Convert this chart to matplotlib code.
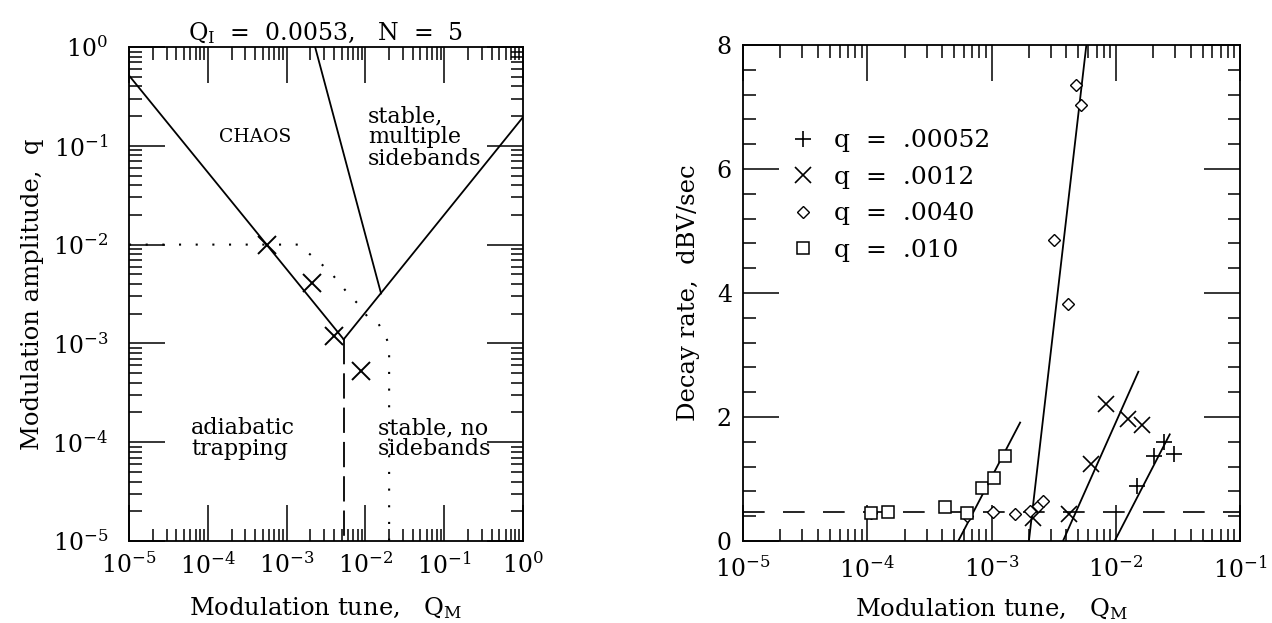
import matplotlib
matplotlib.use('Agg')
import matplotlib.pyplot as plt
from matplotlib.ticker import LogLocator, MultipleLocator, NullFormatter

plt.rcParams['font.family'] = 'DejaVu Serif'
plt.rcParams['mathtext.fontset'] = 'dejavuserif'

# Panel izquierdo: diagrama de estabilidad
lineaA_x = [1e-5, 5.3e-3]
lineaA_y = [0.515, 1.1e-3]
lineaB_x = [5.3e-3, 1.0]
lineaB_y = [1.1e-3, 0.195]
lineaC_x = [2.3e-3, 0.0158]
lineaC_y = [1.0, 3.2e-3]
trazos_x = [5.3e-3, 5.3e-3]
trazos_y = [1.1e-3, 1e-5]
puntos_x = [1e-5, 1.4e-3, 1.9e-3, 3.5e-3, 6.0e-3, 8.1e-3, 0.0107, 0.0145, 0.018, 0.0195, 0.020, 0.020]
puntos_y = [1e-2, 1e-2, 8.2e-3, 5.4e-3, 3.2e-3, 2.5e-3, 1.85e-3, 1.6e-3, 1.2e-3, 1.0e-3, 8e-4, 1e-5]
cruces_x = [5.6e-4, 2.1e-3, 4.0e-3, 8.9e-3]
cruces_y = [1.0e-2, 4.1e-3, 1.2e-3, 5.2e-4]

# Panel derecho: tasa de decaimiento
mas_x = [0.0149, 0.0202, 0.0243, 0.0293]
mas_y = [0.89, 1.37, 1.59, 1.41]
equis_x = [2.17e-3, 4.2e-3, 6.3e-3, 8.4e-3, 0.01245, 0.0164]
equis_y = [0.37, 0.43, 1.25, 2.21, 1.96, 1.87]
rombo_x = [1.07e-4, 6.3e-4, 1.03e-3, 1.55e-3, 2.04e-3, 2.35e-3, 2.6e-3, 3.16e-3, 4.15e-3, 4.8e-3, 5.25e-3]
rombo_y = [0.45, 0.40, 0.46, 0.43, 0.48, 0.56, 0.65, 4.85, 3.83, 7.35, 7.03]
cuad_x = [1.07e-4, 1.48e-4, 4.2e-4, 6.3e-4, 8.4e-4, 1.04e-3, 1.28e-3]
cuad_y = [0.45, 0.46, 0.55, 0.45, 0.85, 1.02, 1.37]
ajuste_cuad = ([5.4e-4, 1.7e-3], [0.0, 1.91])
ajuste_rombo = ([2.0e-3, 5.8e-3], [0.0, 8.0])
ajuste_equis = ([3.76e-3, 0.0152], [0.0, 2.73])
ajuste_mas = ([9.8e-3, 0.0272], [0.0, 1.72])
nivel_base = 0.47
etiquetas = ['q  =  .00052', 'q  =  .0012', 'q  =  .0040', 'q  =  .010']

fig = plt.figure(figsize=(12.72, 6.23), dpi=100)
ax1 = fig.add_axes([129 / 1272, 82 / 623, 394 / 1272, 494 / 623])
ax2 = fig.add_axes([743 / 1272, 82 / 623, 497 / 1272, 496 / 623])

k = dict(color='black', lw=1.3)
ax1.plot(lineaA_x, lineaA_y, **k)
ax1.plot(lineaB_x, lineaB_y, **k)
ax1.plot(lineaC_x, lineaC_y, **k)
ax1.plot(trazos_x, trazos_y, color='black', lw=1.3, dashes=(14, 5))
ax1.plot(puntos_x, puntos_y, color='black', lw=1.5, ls=(0, (1, 7)))
ax1.plot(cruces_x, cruces_y, 'x', color='black', ms=13, mew=1.4)
ax1.set_xscale('log')
ax1.set_yscale('log')
ax1.set_xlim(1e-5, 1)
ax1.set_ylim(1e-5, 1)
ax1.text(0.32, 0.817, 'CHAOS', transform=ax1.transAxes, ha='center', va='center', fontsize=13.5)
ax1.text(0.606, 0.817, 'stable,\nmultiple\nsidebands', transform=ax1.transAxes,
         ha='left', va='center', fontsize=16, linespacing=0.95)
ax1.text(0.158, 0.207, 'adiabatic\ntrapping', transform=ax1.transAxes,
         ha='left', va='center', fontsize=16, linespacing=0.95)
ax1.text(0.631, 0.207, 'stable, no\nsidebands', transform=ax1.transAxes,
         ha='left', va='center', fontsize=16, linespacing=0.95)
ax1.set_title(r'Q$_\mathregular{I}$  =  0.0053,   N  =  5', fontsize=17, pad=5)
ax1.set_xlabel(r'Modulation tune,   Q$_\mathregular{M}$', fontsize=17.5, labelpad=12)
ax1.set_ylabel('Modulation amplitude,  q', fontsize=17.5, labelpad=6)
for eje in (ax1.xaxis, ax1.yaxis):
    eje.set_major_locator(LogLocator(base=10, numticks=10))
    eje.set_minor_locator(LogLocator(base=10, subs=range(2, 10), numticks=10))
    eje.set_minor_formatter(NullFormatter())

ax2.plot(*ajuste_cuad, **k)
ax2.plot(*ajuste_rombo, **k)
ax2.plot(*ajuste_equis, **k)
ax2.plot(*ajuste_mas, **k)
ax2.axhline(nivel_base, color='black', lw=1.2, dashes=(13, 11))
ax2.plot(mas_x, mas_y, '+', color='black', ms=11, mew=1.2, ls='none', label=etiquetas[0])
ax2.plot(equis_x, equis_y, 'x', color='black', ms=11, mew=1.2, ls='none', label=etiquetas[1])
ax2.plot(rombo_x, rombo_y, 'D', color='black', mfc='white', ms=6, mew=1.0, ls='none', label=etiquetas[2])
ax2.plot(cuad_x, cuad_y, 's', color='black', mfc='white', ms=9, mew=1.1, ls='none', label=etiquetas[3])
ax2.set_xscale('log')
ax2.set_xlim(1e-5, 1e-1)
ax2.set_ylim(0, 8)
ax2.yaxis.set_major_locator(MultipleLocator(2))
ax2.yaxis.set_minor_locator(MultipleLocator(0.4))
ax2.xaxis.set_major_locator(LogLocator(base=10, numticks=10))
ax2.xaxis.set_minor_locator(LogLocator(base=10, subs=range(2, 10), numticks=10))
ax2.xaxis.set_minor_formatter(NullFormatter())
ax2.set_xlabel(r'Modulation tune,   Q$_\mathregular{M}$', fontsize=17.5, labelpad=10)
ax2.set_ylabel('Decay rate,  dBV/sec', fontsize=17.5, labelpad=12)
ax2.legend(loc='upper left', bbox_to_anchor=(0.0956, 0.83), frameon=False, fontsize=18,
           handlelength=1.0, handletextpad=0.72, labelspacing=0.54, borderaxespad=0, borderpad=0)

for ax in (ax1, ax2):
    ax.tick_params(which='both', direction='in', top=True, right=True, labelsize=17, width=1.1, pad=8)
    ax.tick_params(which='major', length=26)
    ax.tick_params(which='minor', length=9)
    for s in ax.spines.values():
        s.set_linewidth(1.3)
ax1.tick_params(axis='y', which='major', pad=15)
ax2.tick_params(axis='x', which='major', pad=11)

fig.savefig('out.png', dpi=100)
